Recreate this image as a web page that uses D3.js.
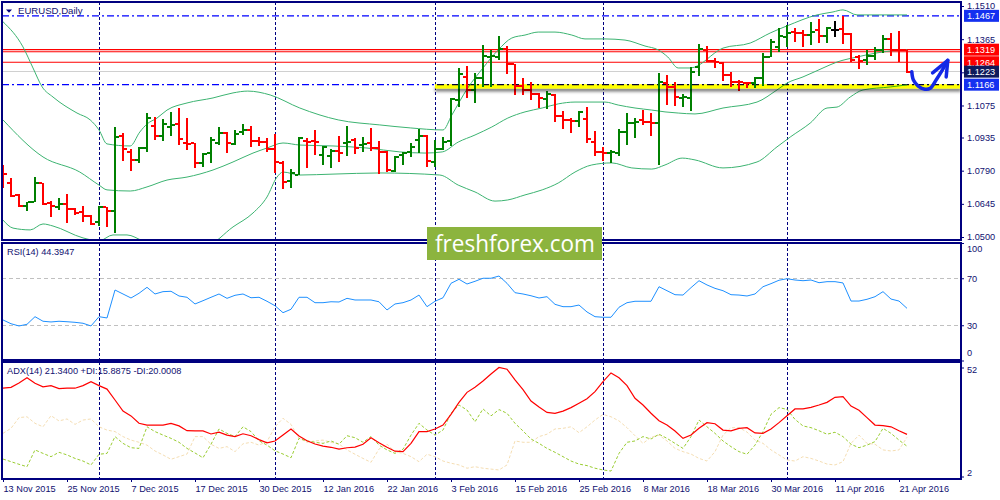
<!DOCTYPE html>
<html>
<head>
<meta charset="utf-8">
<script src="https://cdn.jsdelivr.net/npm/d3@7"></script>
<style>
  html, body { margin: 0; padding: 0; background: #fff; }
  svg { display: block; font-family: Tahoma, "Liberation Sans", Arial, sans-serif; }
</style>
</head>
<body>
<div id="chart"></div>
<script>
// ---- data ----
var symbolTitle = "EURUSD,Daily";
var rsiTitle = "RSI(14) 44.3947";
var adxTitle = "ADX(14) 21.3400 +DI:15.8875 -DI:20.0008";

var tickIdx = [0, 8, 16, 24, 32, 40, 48, 56, 64, 72, 80, 88, 96, 104, 112];
var tickLabels = ["13 Nov 2015", "25 Nov 2015", "7 Dec 2015", "17 Dec 2015", "30 Dec 2015",
  "12 Jan 2016", "22 Jan 2016", "3 Feb 2016", "15 Feb 2016", "25 Feb 2016", "8 Mar 2016",
  "18 Mar 2016", "30 Mar 2016", "11 Apr 2016", "21 Apr 2016"];
var monthStarts = [12, 34, 54, 75, 98];

var priceTicks = [1.1510, 1.1365, 1.1220, 1.1075, 1.0935, 1.0790, 1.0645, 1.0500];
var rsiTicks = [100, 70, 30, 0];
var rsiLevels = [70, 30];
var adxTicks = [52, 2];

var barOpen = [1.0810,1.0736,1.0684,1.0636,1.0654,1.0736,1.0649,1.0631,1.0644,1.0622,
  1.0609,1.0592,1.0566,1.0631,1.0614,1.0942,1.0872,1.0837,1.0889,1.0985,
  1.0942,1.0981,1.0994,1.0911,1.0911,1.0824,1.0867,1.0911,1.0955,1.0907,
  1.0959,1.0968,1.0920,1.0915,1.0885,1.0824,1.0745,1.0771,1.0920,1.0920,
  1.0859,1.0854,1.0876,1.0911,1.0924,1.0902,1.0911,1.0889,1.0872,1.0789,
  1.0859,1.0872,1.0924,1.0942,1.0828,1.0885,1.0920,1.1099,1.1201,1.1143,
  1.1195,1.1288,1.1288,1.1322,1.1255,1.1162,1.1143,1.1125,1.1103,1.1121,
  1.1031,1.1012,1.1007,1.1016,1.0914,1.0873,1.0867,1.0867,1.0959,1.0998,
  1.1012,1.1004,1.0997,1.1173,1.1157,1.1108,1.1109,1.1245,1.1318,1.1271,
  1.1260,1.1208,1.1179,1.1175,1.1172,1.1194,1.1288,1.1332,1.1376,1.1398,
  1.1391,1.1383,1.1405,1.1379,1.1405,1.1408,1.1388,1.1288,1.1274,1.1291,
  1.1318,1.1364,1.1318,1.1316];
var barHigh = [1.0815,1.0758,1.0688,1.0654,1.0762,1.0738,1.0657,1.0671,1.0688,1.0627,
  1.0636,1.0596,1.0636,1.0633,1.0981,1.0955,1.0885,1.0894,1.1042,1.1025,
  1.1016,1.1047,1.1064,1.1020,1.0913,1.0867,1.0937,1.0981,1.0957,1.0968,
  1.0994,1.0985,1.0937,1.0933,1.0950,1.0832,1.0797,1.0937,1.0933,1.0968,
  1.0898,1.0885,1.0942,1.0985,1.0933,1.0937,1.0977,1.0920,1.0876,1.0854,
  1.0872,1.0911,1.0972,1.0946,1.0924,1.0939,1.1108,1.1240,1.1249,1.1217,
  1.1340,1.1318,1.1379,1.1336,1.1257,1.1195,1.1178,1.1130,1.1138,1.1125,
  1.1051,1.1020,1.1051,1.1070,1.0963,1.0895,1.0880,1.0972,1.1042,1.1022,
  1.1055,1.1042,1.1216,1.1208,1.1178,1.1125,1.1245,1.1344,1.1335,1.1281,
  1.1267,1.1223,1.1186,1.1179,1.1198,1.1303,1.1364,1.1413,1.1427,1.1413,
  1.1405,1.1441,1.1452,1.1417,1.1446,1.1466,1.1391,1.1296,1.1318,1.1332,
  1.1383,1.1391,1.1402,1.1318];
var barLow = [1.0714,1.0675,1.0631,1.0615,1.0653,1.0640,1.0587,1.0618,1.0561,1.0596,
  1.0566,1.0552,1.0548,1.0544,1.0517,1.0832,1.0789,1.0824,1.0872,1.0924,
  1.0920,1.0942,1.0902,1.0880,1.0802,1.0806,1.0824,1.0902,1.0867,1.0902,
  1.0946,1.0894,1.0898,1.0872,1.0780,1.0710,1.0714,1.0771,1.0802,1.0859,
  1.0815,1.0802,1.0828,1.0854,1.0863,1.0872,1.0876,1.0775,1.0784,1.0784,
  1.0815,1.0850,1.0867,1.0806,1.0806,1.0880,1.0898,1.1070,1.1108,1.1086,
  1.1157,1.1157,1.1274,1.1213,1.1121,1.1121,1.1099,1.1065,1.1060,1.1003,
  1.0972,1.0955,1.0982,1.0911,1.0856,1.0832,1.0824,1.0856,1.0902,1.0934,
  1.0990,1.0943,1.0815,1.1077,1.1074,1.1070,1.1051,1.1204,1.1267,1.1238,
  1.1183,1.1157,1.1140,1.1150,1.1150,1.1160,1.1286,1.1310,1.1332,1.1354,
  1.1332,1.1340,1.1347,1.1347,1.1373,1.1344,1.1267,1.1233,1.1252,1.1274,
  1.1303,1.1291,1.1267,1.1218];
var barClose = [1.0775,1.0679,1.0636,1.0653,1.0736,1.0644,1.0636,1.0644,1.0622,1.0605,
  1.0592,1.0557,1.0631,1.0614,1.0937,1.0885,1.0837,1.0889,1.1020,1.0942,
  1.0994,1.0990,1.0929,1.0907,1.0824,1.0863,1.0924,1.0955,1.0911,1.0950,
  1.0968,1.0920,1.0915,1.0885,1.0828,1.0740,1.0780,1.0933,1.0915,1.0915,
  1.0894,1.0876,1.0867,1.0915,1.0889,1.0907,1.0889,1.0872,1.0793,1.0850,
  1.0867,1.0894,1.0942,1.0832,1.0885,1.0917,1.1103,1.1213,1.1143,1.1195,
  1.1293,1.1293,1.1322,1.1255,1.1162,1.1143,1.1125,1.1108,1.1125,1.1031,
  1.1012,1.1007,1.1045,1.0929,1.0873,1.0867,1.0872,1.0958,1.0998,1.1004,
  1.1002,1.0997,1.1176,1.1157,1.1113,1.1113,1.1223,1.1321,1.1271,1.1267,
  1.1208,1.1179,1.1176,1.1172,1.1194,1.1288,1.1354,1.1379,1.1391,1.1391,
  1.1383,1.1398,1.1379,1.1413,1.1405,1.1388,1.1274,1.1271,1.1291,1.1318,
  1.1364,1.1318,1.1316,1.1223];

// Bollinger bands, [bar index, price]
var bbUpper = [[0,1.1441],[2.5,1.1331],[3.75,1.1239],[4.9,1.1156],[6.25,1.1112],[9.25,1.1042],
  [10.9,1.1012],[12,1.0968],[13,1.0907],[15.9,1.0898],[17.1,1.0959],[18,1.0994],[19.25,1.1020],
  [20.5,1.1055],[23,1.1086],[26.25,1.1108],[28.75,1.1130],[30.6,1.1138],[33.4,1.1121],
  [37.1,1.1064],[41.9,1.1012],[47.1,1.0990],[50.9,1.0977],[55,1.0968],[56.1,1.1033],
  [58.1,1.1152],[60,1.1239],[61.9,1.1318],[63.6,1.1370],[65.25,1.1383],[66.9,1.1396],
  [69,1.1396],[71.1,1.1383],[72.75,1.1366],[75.25,1.1366],[77.75,1.1361],[80.25,1.1335],
  [81.9,1.1318],[83.1,1.1287],[84.4,1.1239],[85.9,1.1239],[90,1.1326],[93.4,1.1348],
  [95.9,1.1392],[98,1.1423],[101.75,1.1471],[103.75,1.1484],[105,1.1493],[106.75,1.1471],
  [113,1.1471]];
var bbMiddle = [[0,1.1012],[5,1.0850],[9.6,1.0784],[12,1.0727],[13,1.0706],[15.9,1.0701],
  [18,1.0719],[20.5,1.0749],[23,1.0762],[26.25,1.0793],[28.75,1.0828],[31.25,1.0867],
  [33,1.0889],[35,1.0911],[37.1,1.0902],[41.25,1.0898],[45.5,1.0889],[49.6,1.0872],
  [52.75,1.0867],[54.9,1.0872],[56.9,1.0915],[59,1.0946],[61.1,1.0981],[63.1,1.1020],
  [65.25,1.1047],[67.4,1.1064],[69.4,1.1082],[71.5,1.1090],[75.25,1.1090],[76.9,1.1077],
  [79,1.1064],[81.1,1.1055],[82.75,1.1047],[84.4,1.1042],[86.5,1.1038],[90,1.1064],
  [94.25,1.1090],[96.75,1.1143],[98,1.1173],[100,1.1200],[102.5,1.1239],[104.25,1.1265],
  [106.75,1.1287],[109.25,1.1305],[110.9,1.1313],[113,1.1318]];
var bbLower = [[0,1.0574],[1.25,1.0539],[3.4,1.0531],[5,1.0557],[6.25,1.0548],[10,1.0496],
  [12,1.0483],[13.75,1.0509],[15.5,1.0509],[17.5,1.0483],[21.5,1.0443],[25.5,1.0461],
  [28.75,1.0544],[31.25,1.0605],[33,1.0675],[34.25,1.0762],[35,1.0784],[37.1,1.0771],
  [41.25,1.0775],[47.1,1.0780],[54.6,1.0771],[56.9,1.0727],[59,1.0697],[61.5,1.0657],
  [63.1,1.0662],[65.25,1.0684],[67.4,1.0706],[69.4,1.0736],[71.5,1.0784],[73.6,1.0815],
  [76.1,1.0824],[78.6,1.0802],[81.1,1.0797],[82.75,1.0815],[84.9,1.0845],[86.5,1.0837],
  [90,1.0802],[94.25,1.0828],[96.75,1.0894],[98.4,1.0937],[100.9,1.0998],[103,1.1064],
  [104.25,1.1068],[105.9,1.1112],[107.5,1.1143],[110.9,1.1156],[113,1.1165]];

var rsiValues = [34.5,31.3,29.4,30.8,37.3,33.4,32.8,33.4,33.0,32.5,
  31.7,29.4,37.3,36.2,60.0,56.6,53.2,57.2,62.3,56.6,
  58.6,58.9,54.9,53.8,48.1,50.9,53.8,56.6,52.9,55.5,
  56.6,53.4,53.8,50.4,46.6,40.7,43.6,53.8,53.8,49.2,
  49.2,50.0,49.8,52.9,51.5,51.5,51.5,50.0,43.0,48.1,
  49.2,51.5,55.7,45.8,50.4,53.4,65.7,69.1,65.1,67.4,
  70.0,70.0,71.9,65.7,57.7,56.6,55.1,53.2,54.3,47.8,
  45.8,45.8,47.2,41.3,37.3,36.8,36.8,45.3,49.2,50.4,
  50.4,50.4,62.8,59.4,56.0,55.7,62.0,67.9,64.3,61.4,
  59.4,56.0,55.7,54.9,56.6,62.8,65.4,68.3,69.6,68.5,
  67.9,68.5,66.2,67.1,67.1,66.0,50.6,50.6,52.1,54.3,
  58.6,52.3,50.6,44.39];

var adxValues = [42.5,42.9,44.9,47.3,44.8,43.1,43.7,42.3,42.5,42.5,
  43.7,45.5,43.7,42.1,37.1,32.0,29.8,26.4,25.6,25.6,
  25.6,26.4,25.2,23.0,22.9,22.9,21.5,22.3,21.0,20.3,
  21.6,20.7,18.9,17.4,18.3,21.0,23.8,20.6,18.4,16.9,
  15.9,15.4,14.6,15.2,15.5,16.8,19.8,17.5,15.4,13.6,
  13.4,17.2,22.6,22.6,23.8,25.6,30.5,36.0,40.6,42.9,
  45.8,49.0,52.0,51.2,46.3,41.8,36.6,33.9,31.4,31.0,
  32.0,33.6,35.6,37.7,40.9,45.5,49.5,47.3,43.7,37.9,
  34.8,31.0,27.6,25.6,22.9,19.5,21.0,24.1,26.7,26.2,
  23.3,22.9,24.1,24.4,22.0,21.8,23.8,26.7,29.9,33.0,
  33.0,33.7,34.8,36.0,38.3,38.6,34.3,32.4,29.0,25.6,
  25.3,24.8,23.0,21.34];
var plusDI = [10.0,8.8,7.6,6.5,14.2,12.6,11.1,13.1,11.9,10.3,
  9.1,7.3,12.2,12.6,20.3,17.2,15.2,14.9,24.8,22.6,
  21.0,19.5,17.7,14.9,12.8,10.6,16.8,23.8,21.8,20.3,
  24.8,22.6,18.4,16.4,13.8,12.3,10.6,19.5,18.3,17.7,
  17.2,18.3,16.8,20.7,19.8,17.7,20.3,16.4,14.2,12.6,
  14.5,21.0,26.4,23.3,21.0,23.3,31.0,34.8,32.5,27.1,
  33.0,29.8,32.7,31.0,26.4,22.9,19.2,17.2,14.9,13.1,
  11.1,9.1,7.7,7.0,5.8,5.0,4.5,12.6,17.7,18.3,
  20.3,19.2,21.4,19.5,17.2,14.9,20.3,27.9,24.8,21.8,
  18.3,15.7,13.4,12.2,16.4,22.6,30.5,33.6,32.8,28.2,
  25.2,24.4,23.0,21.4,22.3,20.3,16.8,15.2,16.4,18.0,
  24.1,21.8,18.7,15.89];
var minusDI = [21.8,24.1,29.0,29.4,26.4,24.8,29.9,27.5,28.4,25.9,
  27.9,28.4,24.8,23.3,22.6,20.3,18.7,17.7,16.4,13.7,
  11.9,9.9,11.1,12.3,20.3,20.3,16.8,14.9,15.7,13.4,
  17.0,17.7,16.4,18.0,24.8,28.7,25.9,19.5,17.7,18.3,
  18.7,17.7,16.9,14.2,12.2,10.3,8.5,14.6,16.8,13.4,
  12.6,11.1,8.8,12.2,11.1,9.1,8.1,7.3,5.8,6.5,
  5.8,5.4,5.0,7.3,18.3,17.7,17.7,20.3,21.4,23.8,
  24.1,24.8,22.1,24.8,27.9,30.5,29.4,27.5,24.4,20.7,
  17.2,20.0,21.0,18.3,14.9,13.4,12.3,10.3,9.1,13.4,
  21.0,24.4,24.4,22.4,18.7,17.2,14.2,11.9,9.6,9.1,
  11.1,10.3,9.1,7.7,7.3,8.8,17.2,21.0,17.2,16.8,
  14.2,13.7,14.2,20.0];

// horizontal levels and labels on the price scale
var resistLevel = 1.1467;
var supportLevel = 1.1166;
var redLevels = [1.1319, 1.1310, 1.1264];
var bidPrice = 1.1223;
var supportZone = [1.1149, 1.1168];
var zoneStartIdx = 54;
var boxValues = [1.1467, 1.1319, 1.1264, 1.1223, 1.1166];
var boxColors = ["#1430f0", "#ff0000", "#ff0000", "#0e1a5c", "#1430f0"];

// hand drawn arrow, in [bar index, price]
var arrowStroke = [[113.6,1.1223],[113.8,1.1186],[114.4,1.1160],[115.25,1.1146],[115.9,1.1150],
  [116.7,1.1190],[117.3,1.1223],[118.1,1.1272]];
var arrowHead = [[116.2,1.1218],[118.1,1.1272],[117.9,1.1200]];

// ---- drawing ----
var width = 1000, height = 500;
var navy = "#00007f", labelColor = "#101070";
var L = 2, R = 961;
var mainP = [2, 240], rsiP = [243, 360], adxP = [362, 479];

var x = d3.scaleLinear().domain([0, 113]).range([3, 907]);
var yP = d3.scaleLinear().domain([1.05, 1.151]).range([237, 6]);
var yR = d3.scaleLinear().domain([0, 100]).range([360.5, 243]);
var yA = d3.scaleLinear().domain([2, 52]).range([476.5, 367.5]);

var svg = d3.select("#chart").append("svg")
  .attr("width", width).attr("height", height)
  .attr("viewBox", [0, 0, width, height]);

svg.append("rect").attr("width", width).attr("height", height).attr("fill", "#fff");

var defs = svg.append("defs");
[["clipMain", mainP], ["clipRsi", rsiP], ["clipAdx", adxP]].forEach(function (c) {
  defs.append("clipPath").attr("id", c[0]).append("rect")
    .attr("x", L).attr("y", c[1][0]).attr("width", R - L).attr("height", c[1][1] - c[1][0]);
});
var sh = defs.append("filter").attr("id", "shadow")
  .attr("x", "-5%").attr("y", "-100%").attr("width", "110%").attr("height", "400%");
sh.append("feDropShadow").attr("dx", 0).attr("dy", 3).attr("stdDeviation", 1.8)
  .attr("flood-color", "#000").attr("flood-opacity", 0.5);

// month grid lines in every panel
[mainP, rsiP, adxP].forEach(function (p) {
  svg.append("g").selectAll("line").data(monthStarts).join("line")
    .attr("x1", d => x(d)).attr("x2", d => x(d))
    .attr("y1", p[0]).attr("y2", p[1])
    .attr("stroke", navy).attr("stroke-dasharray", "3,2")
    .attr("shape-rendering", "crispEdges");
});

// ---- main price panel ----
var main = svg.append("g").attr("clip-path", "url(#clipMain)");

main.append("line")
  .attr("x1", L).attr("x2", R).attr("y1", yP(bidPrice)).attr("y2", yP(bidPrice))
  .attr("stroke", "#d0d0d0").attr("shape-rendering", "crispEdges");

main.append("g").selectAll("line").data(redLevels).join("line")
  .attr("x1", L).attr("x2", R).attr("y1", d => yP(d)).attr("y2", d => yP(d))
  .attr("stroke", "#ff0000").attr("stroke-width", 1.2);

main.append("g").selectAll("line").data([resistLevel, supportLevel]).join("line")
  .attr("x1", L).attr("x2", R).attr("y1", d => yP(d)).attr("y2", d => yP(d))
  .attr("stroke", "#0000ff").attr("stroke-width", 1.3).attr("stroke-dasharray", "7,3,2,3");

var bandLine = d3.line().x(d => x(d[0])).y(d => yP(d[1])).curve(d3.curveMonotoneX);
main.append("g").selectAll("path").data([bbUpper, bbMiddle, bbLower]).join("path")
  .attr("d", bandLine).attr("fill", "none").attr("stroke", "#3cb371").attr("stroke-width", 1);

var bars = d3.range(barOpen.length).map(function (i) {
  return { i: i, o: barOpen[i], h: barHigh[i], l: barLow[i], c: barClose[i] };
});
var barColor = d => d.c > d.o ? "#008000" : (d.c < d.o ? "#ff0000" : "#000000");
var bg = main.append("g").attr("shape-rendering", "crispEdges")
  .selectAll("g").data(bars).join("g")
  .attr("stroke", barColor).attr("stroke-width", 2);
bg.append("line")
  .attr("x1", d => x(d.i)).attr("x2", d => x(d.i))
  .attr("y1", d => yP(d.h)).attr("y2", d => yP(d.l));
bg.append("line")
  .attr("x1", d => x(d.i) - 4).attr("x2", d => x(d.i) - 1)
  .attr("y1", d => yP(d.o)).attr("y2", d => yP(d.o));
bg.append("line")
  .attr("x1", d => x(d.i) + 1).attr("x2", d => x(d.i) + 4)
  .attr("y1", d => yP(d.c)).attr("y2", d => yP(d.c));

// yellow highlighter over the support level
main.append("rect")
  .attr("x", x(zoneStartIdx)).attr("width", R - x(zoneStartIdx))
  .attr("y", yP(supportZone[1])).attr("height", yP(supportZone[0]) - yP(supportZone[1]))
  .attr("fill", "#ffff00").attr("filter", "url(#shadow)")
  .style("mix-blend-mode", "multiply");

// hand drawn arrow
var arrowLine = d3.line().x(d => x(d[0])).y(d => yP(d[1]));
main.append("path").attr("d", arrowLine.curve(d3.curveCatmullRom)(arrowStroke))
  .attr("fill", "none").attr("stroke", "#1428e6").attr("stroke-width", 3.5)
  .attr("stroke-linecap", "round").attr("stroke-linejoin", "round");
main.append("path").attr("d", d3.line().x(d => x(d[0])).y(d => yP(d[1]))(arrowHead))
  .attr("fill", "none").attr("stroke", "#1428e6").attr("stroke-width", 3.5)
  .attr("stroke-linecap", "round").attr("stroke-linejoin", "round");

// ---- RSI panel ----
var rsiG = svg.append("g").attr("clip-path", "url(#clipRsi)");
rsiG.append("g").selectAll("line").data(rsiLevels).join("line")
  .attr("x1", L).attr("x2", R).attr("y1", d => yR(d)).attr("y2", d => yR(d))
  .attr("stroke", "#c0c0c0").attr("stroke-dasharray", "4,3")
  .attr("shape-rendering", "crispEdges");
rsiG.append("path").datum(rsiValues)
  .attr("d", d3.line().x((d, i) => x(i)).y(d => yR(d)))
  .attr("fill", "none").attr("stroke", "#1e90ff").attr("stroke-width", 1);

// ---- ADX panel ----
var adxG = svg.append("g").attr("clip-path", "url(#clipAdx)");
var idxLine = function (scale) { return d3.line().x((d, i) => x(i)).y(d => scale(d)); };
adxG.append("path").datum(minusDI).attr("d", idxLine(yA))
  .attr("fill", "none").attr("stroke", "#f5deb3").attr("stroke-dasharray", "3,2");
adxG.append("path").datum(plusDI).attr("d", idxLine(yA))
  .attr("fill", "none").attr("stroke", "#9acd32").attr("stroke-dasharray", "3,2");
adxG.append("path").datum(adxValues).attr("d", idxLine(yA))
  .attr("fill", "none").attr("stroke", "#ff0000").attr("stroke-width", 1.2);

// ---- frames ----
[mainP, rsiP, adxP].forEach(function (p) {
  svg.append("rect").attr("x", L).attr("y", p[0]).attr("width", R - L).attr("height", p[1] - p[0])
    .attr("fill", "none").attr("stroke", navy).attr("stroke-width", 1.3)
    .attr("shape-rendering", "crispEdges");
});

// ---- axes ----
function styleAxis(g) {
  g.select(".domain").remove();
  g.selectAll(".tick line").attr("stroke", navy);
  g.selectAll(".tick text").attr("fill", labelColor).attr("font-size", "9.2px")
    .attr("font-family", "Tahoma, 'Liberation Sans', Arial, sans-serif");
}

svg.append("g").attr("transform", "translate(" + R + ",0)")
  .call(d3.axisRight(yP).tickValues(priceTicks).tickSize(3).tickPadding(3).tickFormat(d3.format(".4f")))
  .call(styleAxis);

svg.append("g").attr("transform", "translate(" + R + ",0)")
  .call(d3.axisRight(yR).tickValues(rsiTicks).tickSize(3).tickPadding(3))
  .call(styleAxis)
  .call(g => g.selectAll(".tick text").attr("y", d => d === 100 ? 6 : (d === 0 ? -7.5 : 0)));

svg.append("g").attr("transform", "translate(" + R + ",0)")
  .call(d3.axisRight(yA).tickValues(adxTicks).tickSize(3).tickPadding(3))
  .call(styleAxis)
  .call(g => g.selectAll(".tick text").attr("y", d => d === 52 ? 2.2 : -4));

svg.append("g").attr("transform", "translate(0," + adxP[1] + ")")
  .call(d3.axisBottom(x).tickValues(tickIdx).tickSize(3).tickPadding(3)
    .tickFormat((d, i) => tickLabels[i]))
  .call(styleAxis)
  .call(g => g.selectAll(".tick text").attr("text-anchor", "start"));

// price boxes on the scale
var boxes = svg.append("g").selectAll("g").data(boxValues).join("g");
boxes.append("rect")
  .attr("x", 964).attr("width", 35)
  .attr("y", d => yP(d) - 6).attr("height", 12)
  .attr("fill", (d, i) => boxColors[i]);
boxes.append("text")
  .attr("x", 967).attr("y", d => yP(d) + 3.3)
  .attr("fill", "#fff").attr("font-size", "9.2px")
  .text(d => d3.format(".4f")(d));

// ---- titles ----
svg.append("path").attr("d", "M6,9.5L12,9.5L9,12.8Z").attr("fill", navy);
svg.append("text").attr("x", 18).attr("y", 14.2).attr("fill", labelColor)
  .attr("font-size", "9.6px").text(symbolTitle);
svg.append("text").attr("x", 7).attr("y", 254.5).attr("fill", labelColor)
  .attr("font-size", "9.2px").text(rsiTitle);
svg.append("text").attr("x", 7).attr("y", 374.2).attr("fill", labelColor)
  .attr("font-size", "9.2px").text(adxTitle);

// ---- watermark ----
svg.append("rect").attr("x", 427).attr("y", 227).attr("width", 175).attr("height", 33)
  .attr("fill", "#8cb43e");
svg.append("text").attr("x", 435).attr("y", 251.5)
  .attr("fill", "#fff").attr("font-family", "'Open Sans', 'Noto Sans', sans-serif")
  .attr("font-size", "24px").attr("textLength", 160).attr("lengthAdjust", "spacingAndGlyphs")
  .text("freshforex.com");
</script>
</body>
</html>
